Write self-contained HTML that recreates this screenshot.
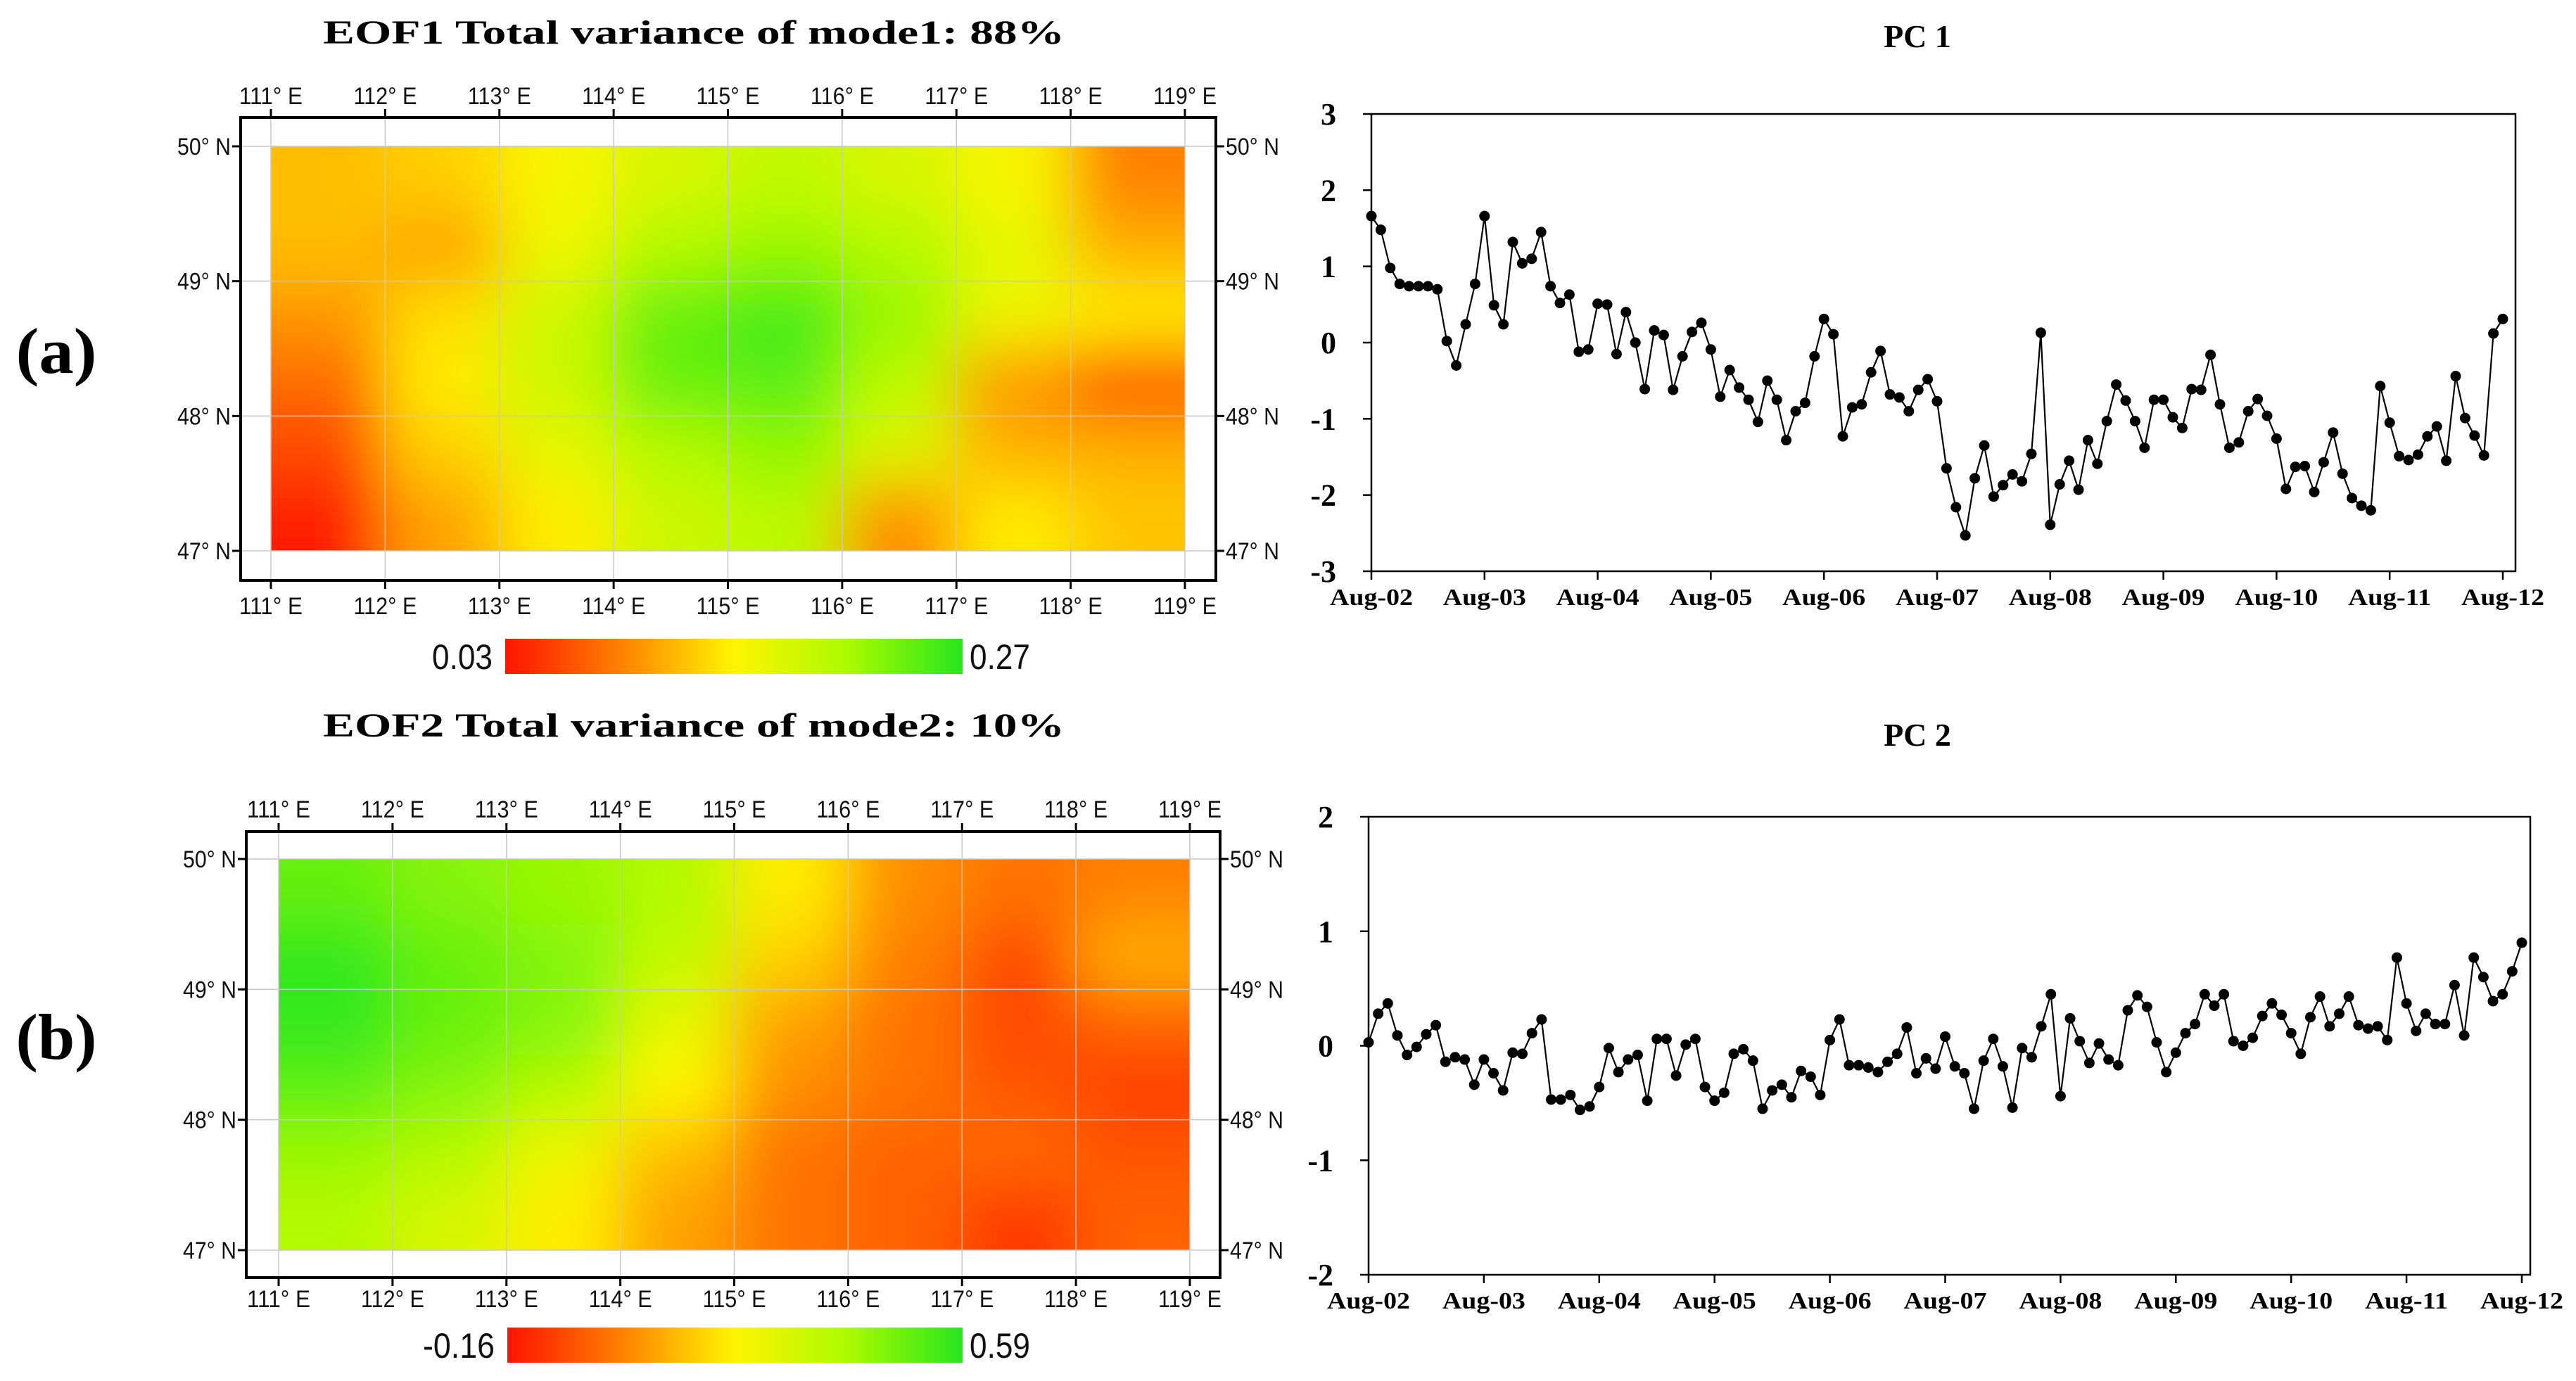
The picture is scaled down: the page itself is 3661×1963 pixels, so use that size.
<!DOCTYPE html>
<html><head><meta charset="utf-8"><style>
html,body{margin:0;padding:0;background:#fff;width:3661px;height:1963px;overflow:hidden;}
svg{display:block;}
</style></head><body>
<svg id="fig" xmlns="http://www.w3.org/2000/svg" width="3661" height="1963" viewBox="0 0 3661 1963">
<rect x="0" y="0" width="3661" height="1963" fill="#fff"/>
<text x="80" y="530" font-family="Liberation Serif, serif" font-weight="bold" font-size="92" text-anchor="middle" textLength="115" lengthAdjust="spacingAndGlyphs">(a)</text>
<text x="80" y="1505" font-family="Liberation Serif, serif" font-weight="bold" font-size="92" text-anchor="middle" textLength="115" lengthAdjust="spacingAndGlyphs">(b)</text>
</svg>
<script>
// ---------- PC time series data ----------
const pc1Values=[1.66,1.48,0.98,0.77,0.74,0.74,0.74,0.70,0.02,-0.30,0.24,0.77,
1.66,0.49,0.24,1.32,1.04,1.10,1.45,0.74,0.52,0.63,-0.12,-0.09,
0.51,0.50,-0.15,0.40,0.00,-0.61,0.16,0.10,-0.62,-0.18,0.14,0.26,
-0.09,-0.71,-0.36,-0.59,-0.75,-1.04,-0.50,-0.75,-1.28,-0.90,-0.79,-0.18,
0.31,0.11,-1.23,-0.85,-0.81,-0.39,-0.11,-0.68,-0.72,-0.90,-0.62,-0.48,
-0.77,-1.65,-2.16,-2.53,-1.78,-1.35,-2.02,-1.87,-1.73,-1.82,-1.46,0.13,
-2.39,-1.86,-1.55,-1.93,-1.28,-1.59,-1.03,-0.55,-0.76,-1.03,-1.38,-0.75,
-0.75,-0.98,-1.12,-0.61,-0.62,-0.16,-0.81,-1.38,-1.31,-0.90,-0.74,-0.96,
-1.26,-1.92,-1.63,-1.62,-1.96,-1.57,-1.18,-1.72,-2.04,-2.14,-2.20,-0.57,
-1.05,-1.49,-1.54,-1.47,-1.23,-1.10,-1.55,-0.44,-0.99,-1.22,-1.48,0.12,0.31];
const pc2Values=[0.03,0.28,0.37,0.09,-0.08,-0.01,0.10,0.18,-0.14,-0.10,-0.12,-0.34,
-0.12,-0.24,-0.39,-0.06,-0.07,0.11,0.23,-0.47,-0.47,-0.43,-0.56,-0.53,
-0.36,-0.02,-0.23,-0.12,-0.08,-0.48,0.06,0.06,-0.26,0.01,0.06,-0.36,
-0.48,-0.41,-0.07,-0.03,-0.13,-0.55,-0.39,-0.34,-0.45,-0.22,-0.27,-0.43,
0.05,0.23,-0.17,-0.17,-0.19,-0.23,-0.14,-0.07,0.16,-0.24,-0.11,-0.20,
0.08,-0.18,-0.24,-0.55,-0.13,0.06,-0.18,-0.54,-0.02,-0.10,0.17,0.45,
-0.44,0.24,0.04,-0.15,0.02,-0.12,-0.17,0.31,0.44,0.34,0.03,-0.23,
-0.06,0.11,0.19,0.45,0.35,0.45,0.04,0.00,0.07,0.26,0.37,0.27,
0.11,-0.07,0.25,0.43,0.17,0.28,0.43,0.18,0.15,0.17,0.05,0.77,
0.37,0.13,0.28,0.19,0.19,0.53,0.09,0.77,0.60,0.39,0.45,0.65,0.90];
const dateLabels=["Aug-02","Aug-03","Aug-04","Aug-05","Aug-06","Aug-07","Aug-08","Aug-09","Aug-10","Aug-11","Aug-12"];
const pc1Ticks=[3,2,1,0,-1,-2,-3];
const pc2Ticks=[2,1,0,-1,-2];
// ---------- EOF map data (normalized 0=red .. 1=green) ----------
const eof1Grid=[
[0.38,0.42,0.52,0.62,0.68,0.62,0.52,0.25],
[0.38,0.32,0.55,0.72,0.78,0.72,0.58,0.35],
[0.30,0.45,0.65,0.88,0.95,0.78,0.55,0.48],
[0.20,0.48,0.65,0.88,0.90,0.70,0.30,0.12],
[0.12,0.42,0.58,0.72,0.80,0.60,0.35,0.35],
[0.02,0.32,0.48,0.65,0.70,0.28,0.48,0.40]];
const eof2Grid=[
[0.88,0.82,0.78,0.72,0.48,0.28,0.22,0.25],
[0.98,0.88,0.82,0.68,0.42,0.25,0.12,0.35],
[0.98,0.88,0.82,0.58,0.32,0.22,0.12,0.18],
[0.90,0.82,0.72,0.50,0.28,0.22,0.15,0.10],
[0.78,0.72,0.55,0.38,0.22,0.18,0.20,0.15],
[0.72,0.62,0.48,0.32,0.22,0.18,0.08,0.18]];
const lonLabels=["111° E","112° E","113° E","114° E","115° E","116° E","117° E","118° E","119° E"];
const latLabels=["50° N","49° N","48° N","47° N"];

const NS="http://www.w3.org/2000/svg";
const svg=document.getElementById('fig');
function mk(tag,attrs,parent){const e=document.createElementNS(NS,tag);for(const k in attrs)e.setAttribute(k,attrs[k]);(parent||svg).appendChild(e);return e;}
const stops=[[0,[255,20,0]],[0.25,[255,128,0]],[0.5,[255,245,0]],[0.75,[170,250,0]],[1,[40,230,30]]];
function col(v){v=Math.max(0,Math.min(1,v));for(let i=0;i<stops.length-1;i++){const a=stops[i],b=stops[i+1];if(v<=b[0]){const t=(v-a[0])/(b[0]-a[0]);const c=a[1].map((x,j)=>Math.round(x+(b[1][j]-x)*t));return `rgb(${c[0]},${c[1]},${c[2]})`;}}return 'rgb(40,230,30)';}

const defs=mk('defs',{});
const grad=mk('linearGradient',{id:'cbar',x1:'0',x2:'1',y1:'0',y2:'0'},defs);
stops.forEach(s=>mk('stop',{offset:s[0],'stop-color':col(s[0])},grad));

function drawMap(c,id){
  const g=mk('g',{});
  
  
  const t=mk('text',{x:986,y:c.titleY+16,'font-family':'Liberation Serif, serif','font-weight':'bold','font-size':48,'text-anchor':'middle',textLength:1054,lengthAdjust:'spacingAndGlyphs'},g);
  t.textContent=c.title;
  
  
  const cp=mk('clipPath',{id:id+'clip'},defs);
  mk('rect',{x:c.dx0,y:c.dy0,width:c.dx1-c.dx0,height:c.dy1-c.dy0},cp);
  const M=150;
  const f=mk('filter',{id:id+'blur',filterUnits:'userSpaceOnUse',x:c.dx0-M,y:c.dy0-M,width:c.dx1-c.dx0+2*M,height:c.dy1-c.dy0+2*M},defs);
  mk('feGaussianBlur',{stdDeviation:45},f);
  const clipG=mk('g',{'clip-path':`url(#${id}clip)`},g);
  const field=mk('g',{filter:`url(#${id}blur)`},clipG);
  
  
  const rows=c.grid.length,cols=c.grid[0].length;
  const cw=(c.dx1-c.dx0)/cols,ch=(c.dy1-c.dy0)/rows;
  for(let r=0;r<rows;r++)for(let k=0;k<cols;k++){
    let x=c.dx0+k*cw,y=c.dy0+r*ch,w=cw+1,h=ch+1;
    if(k===0){x-=M;w+=M;} if(k===cols-1){w+=M;}
    if(r===0){y-=M;h+=M;} if(r===rows-1){h+=M;}
    const cell=mk('rect',{x:x,y:y,width:w,height:h,fill:col(c.grid[r][k])},field);
    
    
  }
  const lonX=i=>c.dx0+i*(c.dx1-c.dx0)/8;
  const latY=i=>c.dy0+i*(c.dy1-c.dy0)/3;
  lonLabels.forEach((lab,i)=>{
    const x=lonX(i);
    mk('line',{x1:x,x2:x,y1:c.fy0,y2:c.fy1,stroke:'#c8c8c8','stroke-width':1.5},g);
    mk('line',{x1:x,x2:x,y1:c.fy0,y2:c.fy0-12,stroke:'#000','stroke-width':3},g);
    mk('line',{x1:x,x2:x,y1:c.fy1,y2:c.fy1+12,stroke:'#000','stroke-width':3},g);
    [c.topY,c.botY].forEach((yy,j)=>{
      const tx=mk('text',{x:x,y:yy+12,'font-family':'Liberation Sans, sans-serif','font-size':34,'text-anchor':'middle',textLength:90,lengthAdjust:'spacingAndGlyphs',fill:'#111'},g);
      tx.textContent=lab;
      
      
    });
  });
  latLabels.forEach((lab,i)=>{
    const y=latY(i);
    mk('line',{x1:c.fx0,x2:c.fx1,y1:y,y2:y,stroke:'#c8c8c8','stroke-width':1.5},g);
    mk('line',{x1:c.fx0,x2:c.fx0-12,y1:y,y2:y,stroke:'#000','stroke-width':3},g);
    mk('line',{x1:c.fx1,x2:c.fx1+12,y1:y,y2:y,stroke:'#000','stroke-width':3},g);
    const l=mk('text',{x:c.fx0-14,y:y+12,'font-family':'Liberation Sans, sans-serif','font-size':34,'text-anchor':'end',textLength:76,lengthAdjust:'spacingAndGlyphs',fill:'#111'},g);
    l.textContent=lab;
    
    
    const r=mk('text',{x:c.fx1+14,y:y+12,'font-family':'Liberation Sans, sans-serif','font-size':34,textLength:76,lengthAdjust:'spacingAndGlyphs',fill:'#111'},g);
    r.textContent=lab;
    
    
  });
  const fr=mk('rect',{x:c.fx0,y:c.fy0,width:c.fx1-c.fx0,height:c.fy1-c.fy0,fill:'none',stroke:'#000','stroke-width':4},g);
  
  
  const cb=mk('rect',{x:c.cb[0],y:c.cb[1],width:c.cb[2]-c.cb[0],height:c.cb[3]-c.cb[1],fill:'url(#cbar)'},g);
  
  
  const lo=mk('text',{x:c.cb[0]-18,y:(c.cb[1]+c.cb[3])/2+18,'font-family':'Liberation Sans, sans-serif','font-size':50,'text-anchor':'end',textLength:c.loW,lengthAdjust:'spacingAndGlyphs',fill:'#111'},g);
  lo.textContent=c.lo;
  
  
  const hi=mk('text',{x:c.cb[2]+10,y:(c.cb[1]+c.cb[3])/2+18,'font-family':'Liberation Sans, sans-serif','font-size':50,textLength:86,lengthAdjust:'spacingAndGlyphs',fill:'#111'},g);
  hi.textContent=c.hi;
  
  
}
drawMap({title:'EOF1 Total variance of mode1: 88%',titleY:46,grid:eof1Grid,fx0:342,fx1:1728,fy0:167,fy1:825,dx0:385,dx1:1684,dy0:208,dy1:783,topY:136,botY:861,cb:[718,908,1368,958],lo:'0.03',hi:'0.27',loW:86},'eof1');
drawMap({title:'EOF2 Total variance of mode2: 10%',titleY:1031,grid:eof2Grid,fx0:350,fx1:1734,fy0:1182,fy1:1816,dx0:396,dx1:1691,dy0:1221,dy1:1777,topY:1150,botY:1846,cb:[721,1887,1368,1937],lo:'-0.16',hi:'0.59',loW:102},'eof2');

function drawPC(c,vals,ticks,id){
  const g=mk('g',{});
  
  
  const vmax=ticks[0],vmin=ticks[ticks.length-1];
  const yS=v=>c.y0+(vmax-v)/(vmax-vmin)*(c.y1-c.y0);
  const xS=i=>c.x0+i/12*(c.xEnd-c.x0)/10;
  const t=mk('text',{x:2725,y:c.titleY+16,'font-family':'Liberation Serif, serif','font-weight':'bold','font-size':46,'text-anchor':'middle'},g);
  t.textContent=c.title;
  
  
  const fr=mk('rect',{x:c.x0,y:c.y0,width:c.x1-c.x0,height:c.y1-c.y0,fill:'none',stroke:'#000','stroke-width':2.5},g);
  
  
  ticks.forEach(v=>{
    const y=yS(v);
    mk('line',{x1:c.x0,x2:c.x0-12,y1:y,y2:y,stroke:'#000','stroke-width':2.5},g);
    const l=mk('text',{x:c.x0-50,y:y+15,'font-family':'Liberation Serif, serif','font-weight':'bold','font-size':44,'text-anchor':'end'},g);
    l.textContent=v;
    
    
  });
  dateLabels.forEach((d,i)=>{
    const x=c.x0+i*(c.xEnd-c.x0)/10;
    mk('line',{x1:x,x2:x,y1:c.y1,y2:c.y1+12,stroke:'#000','stroke-width':2.5},g);
    const l=mk('text',{x:x,y:c.lblY+12,'font-family':'Liberation Serif, serif','font-weight':'bold','font-size':34,'text-anchor':'middle',textLength:118,lengthAdjust:'spacingAndGlyphs'},g);
    l.textContent=d;
    
    
  });
  const pts=vals.map((v,i)=>xS(i).toFixed(1)+','+yS(v).toFixed(1)).join(' ');
  const line=mk('polyline',{points:pts,fill:'none',stroke:'#000','stroke-width':2.2},g);
  
  
  vals.forEach((v,i)=>{
    const p=mk('circle',{cx:xS(i),cy:yS(v),r:7.5,fill:'#000'},g);
    
    
  });
}
drawPC({title:'PC 1',titleY:51,x0:1949,x1:3575,xEnd:3557,y0:162,y1:812,lblY:848},pc1Values,pc1Ticks,'pc1');
drawPC({title:'PC 2',titleY:1044,x0:1945,x1:3596,xEnd:3584,y0:1161,y1:1812,lblY:1848},pc2Values,pc2Ticks,'pc2');
</script>
</body></html>
